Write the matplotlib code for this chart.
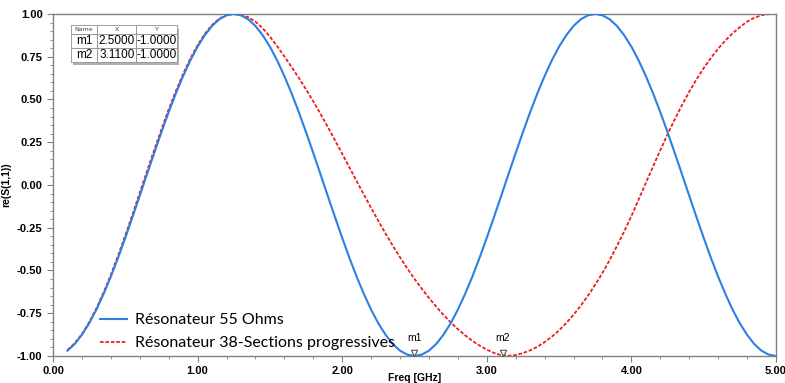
import numpy as np
import matplotlib
matplotlib.use("Agg")
import matplotlib.pyplot as plt
from matplotlib.ticker import MultipleLocator, FormatStrFormatter
from matplotlib.patches import Rectangle

#%% data (sweep 0.10 .. 5.00 GHz, step 0.05)
freq = np.round(np.arange(0.10, 5.001, 0.05), 2)

s11_55 = [-0.969, -0.930, -0.876, -0.809, -0.729, -0.637, -0.536, -0.426, -0.309, -0.187,
          -0.063, 0.063, 0.187, 0.309, 0.426, 0.536, 0.637, 0.729, 0.809, 0.876,
          0.930, 0.969, 0.992, 1.000, 0.992, 0.969, 0.930, 0.876, 0.809, 0.729,
          0.637, 0.536, 0.426, 0.309, 0.187, 0.063, -0.063, -0.187, -0.309, -0.426,
          -0.536, -0.637, -0.729, -0.809, -0.876, -0.930, -0.969, -0.992, -1.000, -0.992,
          -0.969, -0.930, -0.876, -0.809, -0.729, -0.637, -0.536, -0.426, -0.309, -0.187,
          -0.063, 0.063, 0.187, 0.309, 0.426, 0.536, 0.637, 0.729, 0.809, 0.876,
          0.930, 0.969, 0.992, 1.000, 0.992, 0.969, 0.930, 0.876, 0.809, 0.729,
          0.637, 0.536, 0.426, 0.309, 0.187, 0.063, -0.063, -0.187, -0.309, -0.426,
          -0.536, -0.637, -0.729, -0.809, -0.876, -0.930, -0.969, -0.992, -1.000]

s11_38 = [-0.965, -0.925, -0.872, -0.803, -0.722, -0.628, -0.525, -0.413, -0.295, -0.171,
          -0.045, 0.081, 0.205, 0.326, 0.442, 0.550, 0.650, 0.740, 0.818, 0.884,
          0.936, 0.973, 0.994, 1.000, 0.996, 0.981, 0.955, 0.917, 0.868, 0.812,
          0.752, 0.690, 0.626, 0.559, 0.489, 0.416, 0.340, 0.262, 0.183, 0.103,
          0.023, -0.056, -0.134, -0.210, -0.284, -0.355, -0.423, -0.488, -0.549, -0.606,
          -0.660, -0.711, -0.759, -0.803, -0.843, -0.879, -0.911, -0.939, -0.963, -0.982,
          -0.996, -0.999, -0.994, -0.983, -0.967, -0.946, -0.919, -0.887, -0.850, -0.807,
          -0.759, -0.706, -0.647, -0.583, -0.514, -0.439, -0.357, -0.272, -0.182, -0.085,
          0.012, 0.108, 0.203, 0.296, 0.384, 0.467, 0.545, 0.617, 0.683, 0.743,
          0.797, 0.845, 0.887, 0.923, 0.955, 0.978, 0.993, 0.999, 1.000]

marker_names = ["m1", "m2"]
marker_x = [2.5, 3.11]
marker_y = [-1.0, -1.0]

labels = ["Résonateur 55 Ohms", "Résonateur 38-Sections progressives"]

#%% figure
fig = plt.figure(figsize=(7.85, 3.83), dpi=100)
ax = fig.add_axes([0.0675, 0.0705, 0.921, 0.893])

l38, = ax.plot(freq, s11_38, color="#ee1c1c", lw=1.3, ls=(0, (2, 1)), zorder=2)
l55, = ax.plot(freq, s11_55, color="#2d7fe3", lw=1.5, zorder=3)

ax.set_xlim(0, 5)
ax.set_ylim(-1, 1)
ax.xaxis.set_major_locator(MultipleLocator(1))
ax.xaxis.set_minor_locator(MultipleLocator(0.2))
ax.yaxis.set_major_locator(MultipleLocator(0.25))
ax.yaxis.set_minor_locator(MultipleLocator(0.05))
ax.xaxis.set_major_formatter(FormatStrFormatter("%.2f"))
ax.yaxis.set_major_formatter(FormatStrFormatter("%.2f"))

for s in ax.spines.values():
    s.set_color("#808080")
    s.set_linewidth(1.0)
ax.tick_params(which="both", colors="#808080", labelcolor="black", direction="out")
ax.tick_params(which="major", length=4)
ax.tick_params(which="minor", length=2)
for lab in ax.get_xticklabels() + ax.get_yticklabels():
    lab.set_fontfamily("Liberation Sans")
    lab.set_fontweight("bold")
    lab.set_fontsize(8)

ax.set_xlabel("Freq [GHz]", fontfamily="Liberation Sans", fontweight="bold", fontsize=7.5)
ax.xaxis.set_label_coords(0.5, -0.05)
ax.set_ylabel("re(S(1,1))", fontfamily="Liberation Sans", fontweight="bold", fontsize=7.5, labelpad=4)

# markers m1 / m2 (open triangles pointing down at the minima)
tri = [(-1, 2), (1, 2), (0, 0), (-1, 2)]
for name, mx, my in zip(marker_names, marker_x, marker_y):
    ax.plot(mx, my, marker=tri, ms=9, mfc="white", mec="#555555", mew=0.8,
            clip_on=False, zorder=5)
    ax.annotate(name, (mx, my), xytext=(0, 9), textcoords="offset points",
                ha="center", va="bottom", fontsize=7.5, fontfamily="Liberation Sans")

# legend
ax.legend(handles=[l55, l38], labels=labels, loc="lower left",
          bbox_to_anchor=(0.045, -0.025), frameon=False, handlelength=1.7,
          handletextpad=0.5, labelspacing=0.55,
          prop={"family": "Lato", "size": 11.5})

# marker table top-left
tbl_rows = [[n, "%.4f" % x, "%.4f" % y] for n, x, y in zip(marker_names, marker_x, marker_y)]
tb = (0.0245, 0.8605, 0.1466, 0.107)
ax.add_patch(Rectangle((tb[0] + 0.003, tb[1] - 0.01), tb[2], tb[3], transform=ax.transAxes,
                       facecolor="#b0b0b0", edgecolor="none", zorder=6))
table = ax.table(cellText=tbl_rows, colLabels=["Name", "X", "Y"],
                 bbox=list(tb), cellLoc="center", colWidths=[0.25, 0.37, 0.38])
table.auto_set_font_size(False)
table.set_zorder(7)
for (r, c), cell in table.get_celld().items():
    cell.set_edgecolor("#909090")
    cell.set_linewidth(0.6)
    cell.set_facecolor("white")
    if r == 0:
        cell.set_height(0.25)
        cell.get_text().set_fontsize(4.5)
        cell.get_text().set_color("#444444")
    else:
        cell.set_height(0.375)
        cell.get_text().set_fontsize(8.5)
        cell.get_text().set_fontfamily("Liberation Sans")

fig.savefig("out.png", dpi=100)
